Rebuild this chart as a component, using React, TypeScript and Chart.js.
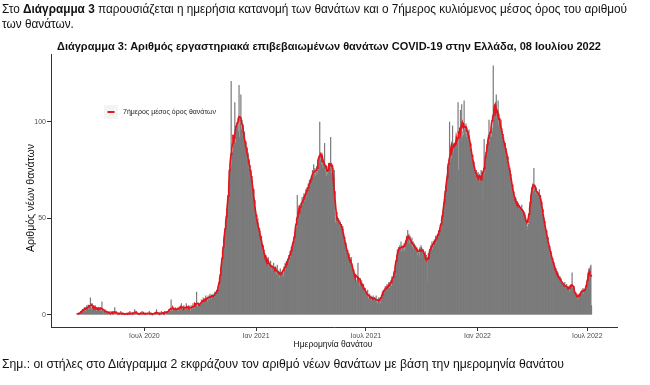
import React, { useEffect, useLayoutEffect, useRef } from "react";
import { Chart, registerables } from "chart.js";

Chart.register(...registerables);

// ---------- data ----------
const startDate = "2020-03-12";

// daily deaths by date of death, 12 Mar 2020 – 31 Dec 2020
const deaths2020 = [
  // Mar (from 12th)
  1,0,1,0,1,1,2,1,2,3,2,3,4,3,2,4,5,3,4,3,
  // Apr
  4,5,9,4,3,6,4,5,3,4,5,3,2,4,3,4,3,2,3,4,2,7,3,2,1,2,3,1,2,2,
  // May
  2,1,1,0,2,1,1,0,1,2,1,0,4,1,2,0,1,1,0,1,1,0,2,1,1,0,1,0,1,1,0,
  // Jun
  1,0,1,1,0,1,2,0,1,0,1,1,0,1,3,1,1,2,0,1,0,1,0,1,1,0,2,1,0,1,
  // Jul
  1,0,1,0,1,1,0,1,2,1,0,1,0,1,1,0,1,0,1,1,3,1,1,0,1,0,1,1,2,0,1,
  // Aug
  1,1,2,1,0,2,1,2,1,2,3,1,2,8,3,2,4,3,2,3,4,2,3,3,4,2,3,4,3,5,6,
  // Sep
  3,4,3,5,2,4,3,6,4,3,4,5,3,4,2,5,4,3,6,4,5,3,6,5,12,4,5,6,4,5,
  // Oct
  5,6,8,7,6,9,7,8,6,10,9,8,7,10,9,8,11,9,10,8,9,11,10,9,12,10,11,13,12,14,13,
  // Nov
  15,19,20,24,26,28,33,35,40,41,44,48,50,55,57,62,64,70,73,76,121,78,84,82,88,90,110,89,98,96,
  // Dec
  97,102,95,119,92,99,114,96,101,93,98,90,95,86,89,83,87,80,84,76,80,75,72,75,68,70,63,65,58,56,52,
];

const deaths2021 = [
  // Jan
  51,49,47,50,44,42,45,40,38,41,35,33,36,30,32,29,31,27,29,26,30,25,27,24,28,23,26,25,22,27,24,
  // Feb
  25,22,24,21,26,20,23,22,19,24,20,22,21,23,20,25,24,27,23,28,26,29,27,31,28,33,30,35,
  // Mar
  34,37,36,40,38,43,42,47,45,62,52,55,50,57,54,58,56,61,57,60,63,59,62,65,61,66,64,68,65,70,67,
  // Apr
  69,72,70,75,71,78,73,76,72,74,77,73,79,75,82,100,80,84,78,81,76,79,77,89,74,76,72,75,73,77,
  // May
  74,78,76,92,73,77,74,76,72,75,50,48,53,49,51,47,50,46,49,48,45,47,44,46,42,40,38,37,35,36,33,
  // Jun
  31,30,32,28,29,27,30,24,26,23,22,20,19,21,18,17,20,27,18,17,15,19,16,18,15,14,16,13,12,14,
  // Jul
  12,11,10,13,9,8,11,9,10,8,7,9,10,8,9,7,8,10,7,6,8,9,7,8,6,9,10,12,11,13,12,
  // Aug
  13,15,12,14,16,13,15,17,14,16,18,15,20,17,19,21,23,22,26,28,31,34,33,35,32,36,34,38,33,35,36,
  // Sep
  34,37,33,38,36,41,39,44,40,42,37,41,38,36,40,35,38,34,37,35,36,33,35,31,34,32,30,35,33,36,
  // Oct
  35,33,31,34,32,30,33,29,31,17,30,32,29,34,33,36,35,38,34,37,36,39,38,41,37,40,42,39,44,43,45,
  // Nov
  44,47,49,52,50,56,60,58,64,67,70,73,72,77,76,100,79,83,81,85,98,87,84,88,86,90,87,92,89,110,
  // Dec
  75,93,96,106,90,109,92,95,93,111,96,94,99,92,97,95,93,96,90,88,86,85,83,80,78,79,76,74,72,75,70,
];

const deaths2022 = [
  // Jan
  71,74,70,73,68,72,75,70,74,58,76,91,73,78,82,85,88,90,93,101,90,93,95,92,97,95,129,103,106,102,108,
  // Feb
  114,100,104,111,98,102,99,96,101,93,95,90,92,88,86,89,84,85,80,82,78,76,73,75,70,71,67,66,
  // Mar
  63,60,62,58,61,57,59,56,58,55,57,54,56,53,57,55,52,54,51,53,50,48,49,46,44,47,52,56,59,62,64,
  // Apr
  66,68,64,76,65,67,63,66,62,64,61,63,65,60,62,59,57,54,52,49,50,47,45,43,42,39,40,37,36,34,
  // May
  33,31,32,29,28,27,25,26,23,24,22,21,20,22,19,18,20,17,19,16,17,15,16,14,17,15,13,16,14,15,13,
  // Jun
  14,12,15,13,16,22,14,13,15,12,11,10,9,11,8,10,9,11,10,12,11,13,12,14,11,13,12,14,13,15,
  // Jul (to 8th)
  16,22,21,24,23,25,26,5,
];

const tickDates = ["2020-07-01", "2021-01-01", "2021-07-01", "2022-01-01", "2022-07-01"];
const tickLabels = ["Ιουλ 2020", "Ιαν 2021", "Ιουλ 2021", "Ιαν 2022", "Ιουλ 2022"];
const yTicks = [0, 50, 100];
const legendLabel = "7ήμερος μέσος όρος θανάτων";
const barLabel = "Νέοι θάνατοι";

// ---------- helpers ----------
const REF = Date.UTC(2020, 6, 1);
const dayOf = (s: string) => Math.round((Date.parse(s + "T00:00:00Z") - REF) / 86400000);

const BAR = "#7a7a7a";
const RED = "#e4141c";
const AX = "#333333";
const FONT = "'Liberation Sans', Arial, Helvetica, sans-serif";

const legendPlugin = {
  id: "insideLegend",
  afterDatasetsDraw(chart: any) {
    const ctx = chart.ctx;
    ctx.save();
    ctx.fillStyle = "#f4f4f4";
    ctx.fillRect(104, 105, 14, 14);
    ctx.strokeStyle = RED;
    ctx.lineWidth = 2;
    ctx.beginPath();
    ctx.moveTo(107.5, 112);
    ctx.lineTo(114.5, 112);
    ctx.stroke();
    ctx.fillStyle = "#222";
    ctx.font = `7px ${FONT}`;
    ctx.textBaseline = "middle";
    ctx.textAlign = "left";
    ctx.fillText(legendLabel, 123, 112);
    ctx.restore();
  },
};

const narrowStyle: React.CSSProperties = {
  position: "absolute",
  left: 2,
  fontFamily: FONT,
  fontSize: 13,
  lineHeight: "15px",
  whiteSpace: "nowrap",
  color: "#111",
  transformOrigin: "0 50%",
  display: "inline-block",
};

export default function App() {
  const ref = useRef<HTMLCanvasElement | null>(null);
  const line1 = useRef<HTMLSpanElement | null>(null);
  const line2 = useRef<HTMLSpanElement | null>(null);
  const note = useRef<HTMLSpanElement | null>(null);

  useLayoutEffect(() => {
    if (!line1.current || !line2.current || !note.current) return;
    const w1 = line1.current.getBoundingClientRect().width;
    const k = 625 / w1;
    line1.current.style.transform = `scaleX(${k})`;
    line2.current.style.transform = `scaleX(${k})`;
    const wn = note.current.getBoundingClientRect().width;
    note.current.style.transform = `scaleX(${562 / wn})`;
  }, []);

  useEffect(() => {
    if (!ref.current) return;
    const daily = [...deaths2020, ...deaths2021, ...deaths2022];
    const start = dayOf(startDate);
    const barData = daily.map((v, i) => ({ x: start + i, y: v }));
    const maData = daily.map((_, i) => {
      let s = 0;
      let c = 0;
      for (let k = i - 3; k <= i + 3; k++) {
        if (k >= 0 && k < daily.length) {
          s += daily[k];
          c++;
        }
      }
      return { x: start + i, y: s / c };
    });

    const tickFont = { size: 7, family: FONT };
    const chart = new Chart(ref.current, {
      type: "bar",
      data: {
        datasets: [
          {
            type: "line",
            label: legendLabel,
            data: maData as any,
            borderColor: RED,
            borderWidth: 1.7,
            pointRadius: 0,
            fill: false,
            tension: 0,
            order: 0,
          } as any,
          {
            type: "bar",
            label: barLabel,
            data: barData as any,
            backgroundColor: BAR,
            borderWidth: 0,
            barThickness: 1.2,
            inflateAmount: 0,
            order: 1,
          } as any,
        ],
      },
      options: {
        responsive: false,
        animation: false,
        devicePixelRatio: 1,
        layout: { padding: { left: 0, right: 33, top: 54, bottom: 0 } },
        plugins: {
          legend: { display: false },
          tooltip: { enabled: false },
          title: { display: false },
        },
        scales: {
          x: {
            type: "linear",
            min: -154,
            max: 779,
            offset: false,
            afterBuildTicks: (s: any) => {
              s.ticks = tickDates.map((d) => ({ value: dayOf(d) }));
            },
            afterFit: (s: any) => {
              s.height = 57.5;
            },
            ticks: {
              autoSkip: false,
              maxRotation: 0,
              minRotation: 0,
              padding: 1,
              font: tickFont,
              color: "#4d4d4d",
              callback: (_v: any, i: number) => tickLabels[i],
            },
            grid: {
              offset: false,
              drawOnChartArea: false,
              drawTicks: true,
              tickLength: 3.5,
              color: AX,
            },
            border: { display: true, color: AX, width: 1 },
          },
          y: {
            type: "linear",
            min: -6.5,
            max: 135,
            afterBuildTicks: (s: any) => {
              s.ticks = yTicks.map((v) => ({ value: v }));
            },
            afterFit: (s: any) => {
              s.width = 51;
            },
            ticks: {
              padding: 1,
              font: tickFont,
              color: "#4d4d4d",
              callback: (v: any) => String(v),
            },
            grid: { drawOnChartArea: false, drawTicks: true, tickLength: 4, color: AX },
            border: { display: true, color: AX, width: 1 },
          },
        },
      } as any,
      plugins: [legendPlugin],
    });
    return () => chart.destroy();
  }, []);

  return (
    <div
      style={{
        position: "fixed",
        left: 0,
        top: 0,
        width: 650,
        height: 385,
        background: "#fff",
        overflow: "hidden",
      }}
    >
      <canvas ref={ref} width={650} height={385} style={{ position: "absolute", left: 0, top: 0 }} />
      <span ref={line1} style={{ ...narrowStyle, top: 1 }}>
        Στο <b>Διάγραμμα 3</b> παρουσιάζεται η ημερήσια κατανομή των θανάτων και ο 7ήμερος κυλιόμενος μέσος όρος του αριθμού
      </span>
      <span ref={line2} style={{ ...narrowStyle, top: 16 }}>
        των θανάτων.
      </span>
      <div
        style={{
          position: "absolute",
          left: 4,
          width: 650,
          top: 40,
          textAlign: "center",
          fontFamily: FONT,
          fontWeight: "bold",
          fontSize: 11,
          lineHeight: "13px",
          whiteSpace: "nowrap",
          color: "#111",
        }}
      >
        Διάγραμμα 3: Αριθμός εργαστηριακά επιβεβαιωμένων θανάτων COVID-19 στην Ελλάδα, 08 Ιουλίου 2022
      </div>
      <div
        style={{
          position: "absolute",
          left: 30,
          top: 198,
          transform: "translate(-50%, -50%) rotate(-90deg)",
          fontFamily: FONT,
          fontSize: 10.5,
          lineHeight: "12px",
          whiteSpace: "nowrap",
          color: "#111",
        }}
      >
        Αριθμός νέων θανάτων
      </div>
      <div
        style={{
          position: "absolute",
          left: 0,
          width: 666,
          top: 339,
          textAlign: "center",
          fontFamily: FONT,
          fontSize: 8.5,
          lineHeight: "10px",
          whiteSpace: "nowrap",
          color: "#111",
        }}
      >
        Ημερομηνία θανάτου
      </div>
      <span ref={note} style={{ ...narrowStyle, top: 356 }}>
        Σημ.: οι στήλες στο Διάγραμμα 2 εκφράζουν τον αριθμό νέων θανάτων με βάση την ημερομηνία θανάτου
      </span>
    </div>
  );
}
